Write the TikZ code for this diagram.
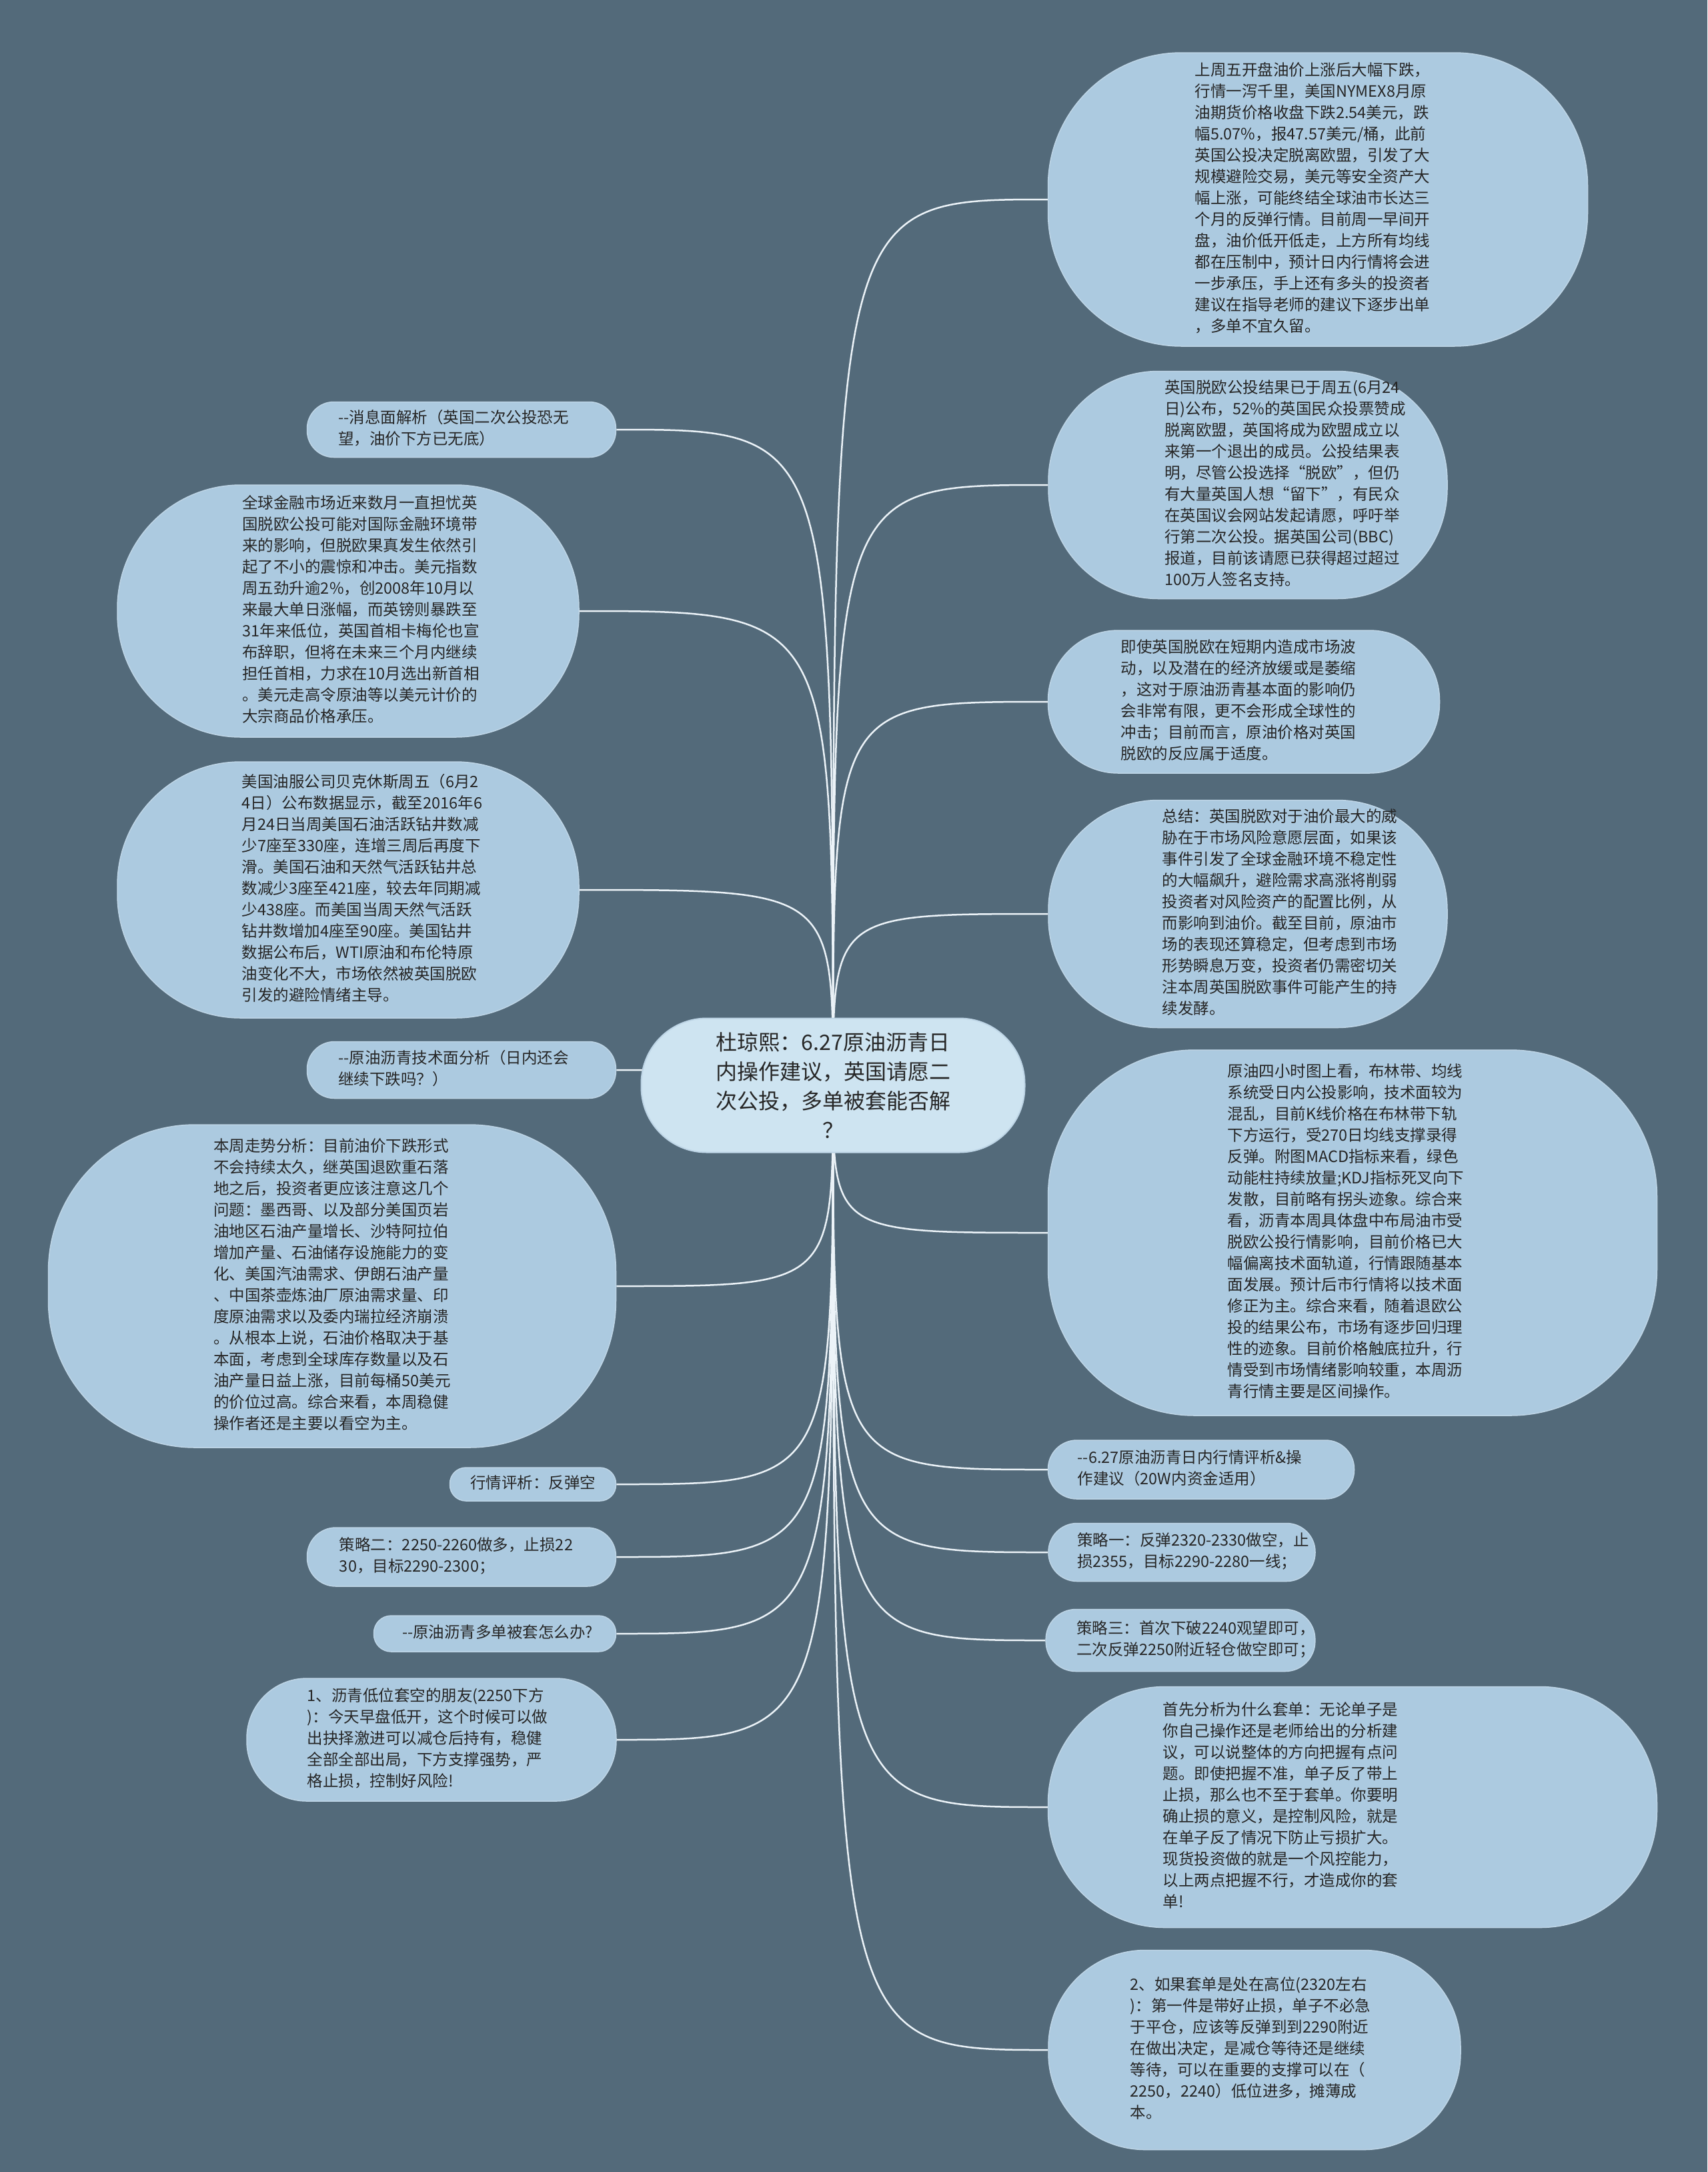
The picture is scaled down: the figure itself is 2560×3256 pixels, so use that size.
\documentclass[tikz,border=0pt]{standalone}
\usepackage{fontspec}
\setmainfont{Noto Sans CJK SC}[Ligatures=TeXOff]
\usepackage{xcolor}
\definecolor{bgcol}{RGB}{83,106,122}
\definecolor{leaffill}{RGB}{172,202,224}
\definecolor{leafline}{RGB}{190,213,230}
\definecolor{rootfill}{RGB}{206,228,241}
\definecolor{linkcol}{RGB}{236,243,248}
\definecolor{ink}{RGB}{38,38,38}
\newcommand\leaffont{\fontsize{23.5pt}{32pt}\selectfont}
\newcommand\rootfont{\fontsize{32pt}{44pt}\selectfont}
\newcommand\leaftext[2]{\kern#1\begin{tabular}{@{}l@{}}#2\end{tabular}}
\pgfdeclarelayer{back}
\pgfdeclarelayer{links}
\pgfsetlayers{back,links,main}
\tikzset{
  leaf/.style n args={3}{draw=leafline, line width=1.5pt, fill=leaffill, text=ink,
    font=\leaffont, inner sep=0pt,
    minimum width=#1, minimum height=#2, rounded corners=#3},
  topic/.style={draw=leafline, line width=2pt, fill=rootfill, text=ink,
    font=\rootfont, align=center, inner sep=0pt,
    minimum width=575pt, minimum height=201pt, rounded corners=98pt},
  link/.style={draw=linkcol, line width=2.5pt}
}

\begin{document}
\begin{tikzpicture}[x=1pt,y=-1pt]
\begin{pgfonlayer}{back}
\fill[bgcol] (0,0) rectangle (2560,3256);
\end{pgfonlayer}

\node [topic] (root) at (1249,1627)
  {杜琼熙：6.27原油沥青日\\内操作建议，英国请愿二\\次公投，多单被套能否解\\？};

\node [leaf={809pt}{440pt}{200pt}] (r1) at (1976,299)
  {\leaftext{-16pt}{上周五开盘油价上涨后大幅下跌，\\行情一泻千里，美国NYMEX8月原\\油期货价格收盘下跌2.54美元，跌\\幅5.07\%，报47.57美元/桶，此前\\英国公投决定脱离欧盟，引发了大\\规模避险交易，美元等安全资产大\\幅上涨，可能终结全球油市长达三\\个月的反弹行情。目前周一早间开\\盘，油价低开低走，上方所有均线\\都在压制中，预计日内行情将会进\\一步承压，手上还有多头的投资者\\建议在指导老师的建议下逐步出单\\，多单不宜久留。}};
\node [leaf={598pt}{341pt}{165pt}] (r2) at (1871,727)
  {\leaftext{112pt}{英国脱欧公投结果已于周五(6月24\\日)公布，52\%的英国民众投票赞成\\脱离欧盟，英国将成为欧盟成立以\\来第一个退出的成员。公投结果表\\明，尽管公投选择“脱欧”，但仍\\有大量英国人想“留下”，有民众\\在英国议会网站发起请愿，呼吁举\\行第二次公投。据英国公司(BBC)\\报道，目前该请愿已获得超过超过\\100万人签名支持。}};
\node [leaf={587pt}{214pt}{105pt}] (r3) at (1865,1052)
  {\leaftext{-16pt}{即使英国脱欧在短期内造成市场波\\动，以及潜在的经济放缓或是萎缩\\，这对于原油沥青基本面的影响仍\\会非常有限，更不会形成全球性的\\冲击；目前而言，原油价格对英国\\脱欧的反应属于适度。}};
\node [leaf={598pt}{341pt}{165pt}] (r4) at (1871,1370)
  {\leaftext{96pt}{总结：英国脱欧对于油价最大的威\\胁在于市场风险意愿层面，如果该\\事件引发了全球金融环境不稳定性\\的大幅飙升，避险需求高涨将削弱\\投资者对风险资产的配置比例，从\\而影响到油价。截至目前，原油市\\场的表现还算稳定，但考虑到市场\\形势瞬息万变，投资者仍需密切关\\注本周英国脱欧事件可能产生的持\\续发酵。}};
\node [leaf={913pt}{548pt}{220pt}] (r5) at (2028,1848)
  {\leaftext{-20pt}{原油四小时图上看，布林带、均线\\系统受日内公投影响，技术面较为\\混乱，目前K线价格在布林带下轨\\下方运行，受270日均线支撑录得\\反弹。附图MACD指标来看，绿色\\动能柱持续放量;KDJ指标死叉向下\\发散，目前略有拐头迹象。综合来\\看，沥青本周具体盘中布局油市受\\脱欧公投行情影响，目前价格已大\\幅偏离技术面轨道，行情跟随基本\\面发展。预计后市行情将以技术面\\修正为主。综合来看，随着退欧公\\投的结果公布，市场有逐步回归理\\性的迹象。目前价格触底拉升，行\\情受到市场情绪影响较重，本周沥\\青行情主要是区间操作。}};
\node [leaf={459pt}{88pt}{43pt}] (r6) at (1801,2203)
  {\leaftext{-34pt}{--6.27原油沥青日内行情评析\&操\\作建议（20W内资金适用）}};
\node [leaf={400pt}{87pt}{43pt}] (r7) at (1772,2327)
  {\leaftext{34pt}{策略一：反弹2320-2330做空，止\\损2355，目标2290-2280一线；}};
\node [leaf={396pt}{93pt}{45pt}] (r8) at (1770,2459)
  {\leaftext{46pt}{策略三：首次下破2240观望即可，\\二次反弹2250附近轻仓做空即可；}};
\node [leaf={913pt}{361pt}{175pt}] (r9) at (2028,2709)
  {\leaftext{-216pt}{首先分析为什么套单：无论单子是\\你自己操作还是老师给出的分析建\\议，可以说整体的方向把握有点问\\题。即使把握不准，单子反了带上\\止损，那么也不至于套单。你要明\\确止损的意义，是控制风险，就是\\在单子反了情况下防止亏损扩大。\\现货投资做的就是一个风控能力，\\以上两点把握不行，才造成你的套\\单!}};
\node [leaf={618pt}{299pt}{145pt}] (r10) at (1881,3073)
  {\leaftext{-12pt}{2、如果套单是处在高位(2320左右\\)：第一件是带好止损，单子不必急\\于平仓，应该等反弹到到2290附近\\在做出决定，是减仓等待还是继续\\等待，可以在重要的支撑可以在（\\2250，2240）低位进多，摊薄成\\本。}};

\node [leaf={463pt}{83pt}{40pt}] (l1) at (692,644)
  {\leaftext{-24pt}{--消息面解析（英国二次公投恐无\\望，油价下方已无底）}};
\node [leaf={692pt}{378pt}{185pt}] (l2) at (522,916)
  {\leaftext{38pt}{全球金融市场近来数月一直担忧英\\国脱欧公投可能对国际金融环境带\\来的影响，但脱欧果真发生依然引\\起了不小的震惊和冲击。美元指数\\周五劲升逾2\%，创2008年10月以\\来最大单日涨幅，而英镑则暴跌至\\31年来低位，英国首相卡梅伦也宣\\布辞职，但将在未来三个月内继续\\担任首相，力求在10月选出新首相\\。美元走高令原油等以美元计价的\\大宗商品价格承压。}};
\node [leaf={692pt}{384pt}{185pt}] (l3) at (522,1334)
  {\leaftext{42pt}{美国油服公司贝克休斯周五（6月2\\4日）公布数据显示，截至2016年6\\月24日当周美国石油活跃钻井数减\\少7座至330座，连增三周后再度下\\滑。美国石油和天然气活跃钻井总\\数减少3座至421座，较去年同期减\\少438座。而美国当周天然气活跃\\钻井数增加4座至90座。美国钻井\\数据公布后，WTI原油和布伦特原\\油变化不大，市场依然被英国脱欧\\引发的避险情绪主导。}};
\node [leaf={463pt}{85pt}{41pt}] (l4) at (692,1604)
  {\leaftext{-24pt}{--原油沥青技术面分析（日内还会\\继续下跌吗？）}};
\node [leaf={851pt}{484pt}{220pt}] (l5) at (498,1928)
  {\leaftext{0pt}{本周走势分析：目前油价下跌形式\\不会持续太久，继英国退欧重石落\\地之后，投资者更应该注意这几个\\问题：墨西哥、以及部分美国页岩\\油地区石油产量增长、沙特阿拉伯\\增加产量、石油储存设施能力的变\\化、美国汽油需求、伊朗石油产量\\、中国茶壶炼油厂原油需求量、印\\度原油需求以及委内瑞拉经济崩溃\\。从根本上说，石油价格取决于基\\本面，考虑到全球库存数量以及石\\油产量日益上涨，目前每桶50美元\\的价位过高。综合来看，本周稳健\\操作者还是主要以看空为主。}};
\node [leaf={249pt}{50pt}{24pt}] (l6) at (799,2225)
  {\leaftext{0pt}{行情评析：反弹空}};
\node [leaf={463pt}{88pt}{43pt}] (l7) at (692,2334)
  {\leaftext{-16pt}{策略二：2250-2260做多，止损22\\30，目标2290-2300；}};
\node [leaf={363pt}{54pt}{26pt}] (l8) at (742,2449)
  {\leaftext{8pt}{--原油沥青多单被套怎么办?}};
\node [leaf={554pt}{184pt}{90pt}] (l9) at (647,2608)
  {\leaftext{-12pt}{1、沥青低位套空的朋友(2250下方\\)：今天早盘低开，这个时候可以做\\出抉择激进可以减仓后持有，稳健\\全部全部出局，下方支撑强势，严\\格止损，控制好风险!}};

\begin{pgfonlayer}{links}
\foreach \n in {r1,r2,r3,r4,r5,r6,r7,r8,r9,r10}
  \draw[link] (root.center) .. controls (root.center |- \n.west) .. (\n.west);
\foreach \n in {l1,l2,l3,l4,l5,l6,l7,l8,l9}
  \draw[link] (root.center) .. controls (root.center |- \n.east) .. (\n.east);
\end{pgfonlayer}
\end{tikzpicture}
\end{document}
